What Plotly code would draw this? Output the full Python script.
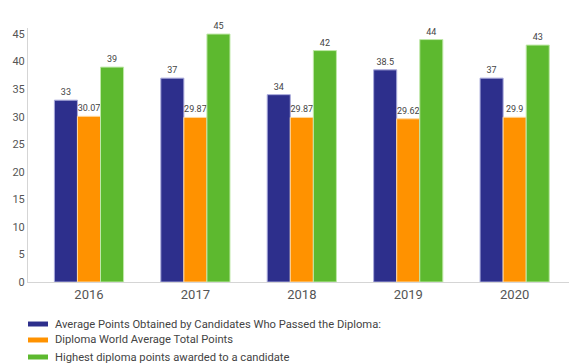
import plotly.graph_objects as go

years = ["2016", "2017", "2018", "2019", "2020"]
avg_passed = [33, 37, 34, 38.5, 37]
world_avg = [30.07, 29.87, 29.87, 29.62, 29.9]
highest = [39, 45, 42, 44, 43]

names = [
    "Average Points Obtained by Candidates Who Passed the Diploma:",
    "Diploma World Average Total Points",
    "Highest diploma points awarded to a candidate",
]
colors = ["#2d2f8c", "#ff9200", "#5db92f"]
edges = ["#a9aadb", "#ffd9a0", "#bfe8a8"]

fig = go.Figure()
for name, vals, c, e in zip(names, [avg_passed, world_avg, highest], colors, edges):
    fig.add_trace(go.Bar(
        x=years, y=vals, name=name,
        marker=dict(color=c, line=dict(color=e, width=1)),
        text=[str(v) for v in vals], textposition="outside",
        textfont=dict(size=9, color="#444", family="Roboto"),
        cliponaxis=False, showlegend=False,
    ))

# Custom legend (wide rectangular swatches, tight rows as in the reference)
row_y = [-0.1654, -0.2283, -0.2953]
shapes = []
annotations = []
for name, c, yy in zip(names, colors, row_y):
    shapes.append(dict(type="rect", xref="paper", yref="paper",
                       x0=0.0, x1=0.0369, y0=yy - 0.0098, y1=yy + 0.0098,
                       fillcolor=c, line=dict(width=0)))
    annotations.append(dict(xref="paper", yref="paper", x=0.046, y=yy,
                            xanchor="left", yanchor="middle", showarrow=False,
                            text=name, font=dict(size=11.2, color="#444", family="Roboto")))

fig.update_layout(
    width=569, height=355,
    margin=dict(l=20, r=7, t=20, b=81, autoexpand=False),
    paper_bgcolor="white", plot_bgcolor="white",
    font=dict(family="Roboto", color="#555"),
    barmode="group", bargap=0.35, bargroupgap=0,
    showlegend=False,
    shapes=shapes, annotations=annotations,
    xaxis=dict(range=[-0.573, 4.52], showline=True, linecolor="#d5d5d5", linewidth=1,
               ticks="", tickfont=dict(size=13, color="#555"), showgrid=False),
    yaxis=dict(range=[0, 46.1], showline=True, linecolor="#d5d5d5", linewidth=1,
               tickvals=[0, 5, 10, 15, 20, 25, 30, 35, 40, 45], showgrid=False,
               zeroline=False, tickfont=dict(size=11, color="#555"), ticks=""),
)

fig.write_html("out.html")
